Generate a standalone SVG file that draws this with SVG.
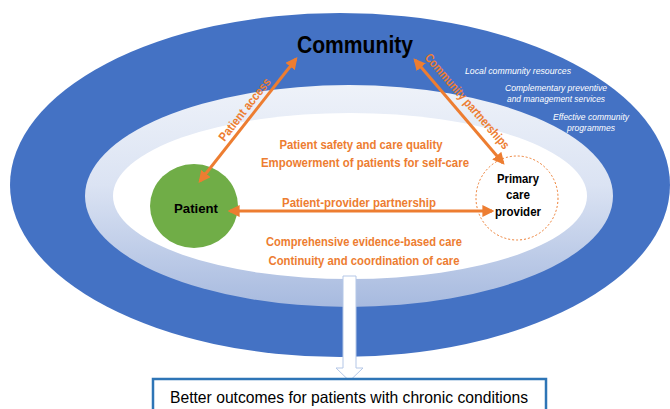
<svg xmlns="http://www.w3.org/2000/svg" width="670" height="409" viewBox="0 0 670 409">
<defs>
<linearGradient id="ring" x1="0" y1="0" x2="0" y2="1">
<stop offset="0" stop-color="#eef2f9"/>
<stop offset="0.45" stop-color="#dbe3f3"/>
<stop offset="1" stop-color="#a7badf"/>
</linearGradient>
<marker id="ah" viewBox="0 0 10 10" refX="8" refY="5" markerWidth="4" markerHeight="4" orient="auto-start-reverse" markerUnits="strokeWidth">
<path d="M0,0 L10,5 L0,10 Z" fill="#ed7d31"/>
</marker>
<style>
.lbl{font-family:"Liberation Sans",Arial,sans-serif;font-weight:bold;font-size:12.5px;fill:#ed7d31;text-anchor:middle}
.side{font-family:"Liberation Sans",Arial,sans-serif;font-style:italic;font-size:8.3px;fill:#ffffff;text-anchor:middle}
.node{font-family:"Liberation Sans",Arial,sans-serif;font-weight:bold;font-size:13px;fill:#000000;text-anchor:middle}
.conn{stroke:#ed7d31;stroke-width:3;fill:none;marker-start:url(#ah);marker-end:url(#ah)}
</style>
</defs>
<rect width="670" height="409" fill="#ffffff"/>
<g id="background">
<ellipse cx="340" cy="185" rx="330" ry="172" fill="#4472c4"/>
<ellipse cx="349" cy="196" rx="264" ry="111" fill="url(#ring)"/>
<ellipse cx="350" cy="196" rx="237" ry="83" fill="#ffffff"/>
</g>
<g id="community">
<text x="355" y="53" font-family="Liberation Sans,Arial,sans-serif" font-weight="bold" font-size="23" fill="#000" text-anchor="middle" textLength="116" lengthAdjust="spacingAndGlyphs">Community</text>
</g>
<g id="community-notes">
<text class="side" x="518" y="74" textLength="106" lengthAdjust="spacingAndGlyphs">Local community resources</text>
<text class="side" x="556" y="91" textLength="102" lengthAdjust="spacingAndGlyphs">Complementary preventive</text>
<text class="side" x="556" y="102" textLength="98" lengthAdjust="spacingAndGlyphs">and management services</text>
<text class="side" x="591" y="120" textLength="76" lengthAdjust="spacingAndGlyphs">Effective community</text>
<text class="side" x="591" y="131" textLength="48" lengthAdjust="spacingAndGlyphs">programmes</text>
</g>
<g id="patient">
<ellipse cx="194" cy="206" rx="44" ry="42" fill="#70ad47"/>
<text class="node" x="196" y="213" font-size="14" textLength="44" lengthAdjust="spacingAndGlyphs">Patient</text>
</g>
<g id="provider">
<ellipse cx="517" cy="198" rx="41" ry="42" fill="#ffffff" stroke="#ed7d31" stroke-width="1" stroke-dasharray="2,2"/>
<text class="node" x="518" y="183" textLength="42" lengthAdjust="spacingAndGlyphs">Primary</text>
<text class="node" x="518" y="199" textLength="24" lengthAdjust="spacingAndGlyphs">care</text>
<text class="node" x="518" y="216" textLength="46" lengthAdjust="spacingAndGlyphs">provider</text>
</g>
<g id="care-labels">
<text class="lbl" x="361" y="149" textLength="163" lengthAdjust="spacingAndGlyphs">Patient safety and care quality</text>
<text class="lbl" x="365" y="167" textLength="208" lengthAdjust="spacingAndGlyphs">Empowerment of patients for self-care</text>
<text class="lbl" x="359" y="207" textLength="154" lengthAdjust="spacingAndGlyphs">Patient-provider partnership</text>
<text class="lbl" x="364" y="246" textLength="196" lengthAdjust="spacingAndGlyphs">Comprehensive evidence-based care</text>
<text class="lbl" x="364" y="265" textLength="191" lengthAdjust="spacingAndGlyphs">Continuity and coordination of care</text>
</g>
<g id="connectors">
<line class="conn" x1="200" y1="181" x2="296" y2="59"/>
<line class="conn" x1="415" y1="60" x2="503" y2="163"/>
<line class="conn" x1="230" y1="211" x2="492" y2="211"/>
<text class="lbl" transform="translate(248,112) rotate(-52)" textLength="76" lengthAdjust="spacingAndGlyphs">Patient access</text>
<text class="lbl" transform="translate(464,104) rotate(49)" textLength="122" lengthAdjust="spacingAndGlyphs">Community partnerships</text>
<path d="M343,276 L356,276 L356,368 L363,368 L349.5,381 L336,368 L343,368 Z" fill="#ffffff" stroke="#b4c7e7" stroke-width="1"/>
</g>
<g id="outcome">
<rect x="153" y="379" width="393" height="40" fill="#ffffff" stroke="#2e75b6" stroke-width="2.5"/>
<text x="349" y="403" font-family="Liberation Sans,Arial,sans-serif" font-size="16.5" fill="#000" text-anchor="middle" textLength="358" lengthAdjust="spacingAndGlyphs">Better outcomes for patients with chronic conditions</text>
</g>
</svg>
